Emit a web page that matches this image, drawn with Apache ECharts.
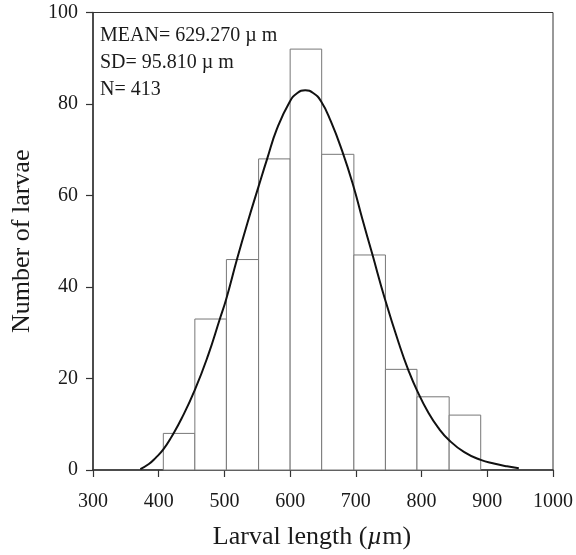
<!DOCTYPE html>
<html>
<head>
<meta charset="utf-8">
<script src="https://cdn.jsdelivr.net/npm/echarts@6/dist/echarts.min.js"></script>
<style>html,body{margin:0;padding:0;background:#fff;}#c{width:576px;height:555px;}</style>
</head>
<body>
<div id="c"></div>
<script>
// Histogram bins (bin edges in µm) and counts
const binLeft  = [407, 455, 503, 552, 600, 648, 697, 745, 793, 842];
const binRight = [455, 503, 552, 600, 648, 697, 745, 793, 842, 890];
const counts   = [8, 33, 46, 68, 92, 69, 47, 22, 16, 12];

// Fitted curve, points
const curveX = [372, 385, 395, 407, 420, 435, 455, 475, 493, 503, 519, 535, 552, 565, 580, 599, 611, 623, 635, 647, 662, 679, 696, 710, 725, 744, 767, 780, 793, 810, 825, 842, 865, 890, 910, 930, 948];
const curveY = [0.2, 1.3, 2.6, 4.5, 7.4, 11.3, 17.5, 25, 33, 37.5, 46, 54, 62, 68, 74.6, 80.4, 82.4, 83, 82.4, 80.6, 76.2, 69.8, 62.2, 54.8, 47.2, 37.5, 27, 21.8, 17.4, 12.6, 9.3, 6.5, 3.9, 2.2, 1.4, 0.8, 0.4];

const xTicks = [300, 400, 500, 600, 700, 800, 900, 1000];
const yTicks = [0, 20, 40, 60, 80, 100];

const statLines = ['MEAN= 629.270 µ m', 'SD= 95.810 µ m', 'N= 413'];

const FONT = "'Liberation Serif', 'DejaVu Serif', serif";
const TXT = '#1a1a1a';

const chart = echarts.init(document.getElementById('c'), null, {renderer: 'canvas'});

const barData = binLeft.map((l, i) => [l, binRight[i], counts[i]]);
const curveData = curveX.map((x, i) => [x, curveY[i]]);

chart.setOption({
  animation: false,
  backgroundColor: '#fff',
  grid: {left: 93, right: 23, top: 12.5, bottom: 84, show: true, borderColor: '#333', borderWidth: 1, backgroundColor: 'transparent'},
  xAxis: {
    type: 'value', min: xTicks[0], max: xTicks[xTicks.length - 1], interval: 100,
    name: 'Larval length ({i|µ}m)',
    nameLocation: 'middle', nameGap: 54,
    nameTextStyle: {fontFamily: FONT, fontSize: 26, color: TXT, padding: [0, 22, 0, 0],
      rich: {i: {fontFamily: FONT, fontSize: 26, fontStyle: 'italic', color: TXT}}},
    axisLine: {show: true, lineStyle: {color: '#333', width: 1.5}},
    axisTick: {show: true, inside: false, length: 7, lineStyle: {color: '#333', width: 1.2}},
    axisLabel: {fontFamily: FONT, fontSize: 20, color: TXT, margin: 22, formatter: function (v) { return String(v); }},
    splitLine: {show: false}
  },
  yAxis: {
    type: 'value', min: yTicks[0], max: yTicks[yTicks.length - 1], interval: 20,
    name: 'Number of larvae',
    nameLocation: 'middle', nameGap: 58,
    nameTextStyle: {fontFamily: FONT, fontSize: 26, color: TXT},
    axisLine: {show: true, lineStyle: {color: '#333', width: 1.5}},
    axisTick: {show: true, inside: false, length: 7, lineStyle: {color: '#333', width: 1.2}},
    axisLabel: {fontFamily: FONT, fontSize: 20, color: TXT, margin: 15},
    splitLine: {show: false}
  },
  graphic: [{
    type: 'text', left: 100, top: 22, z: 10,
    style: {text: statLines.join('\n'), font: "20px 'Liberation Serif', serif", fill: TXT, lineHeight: 27}
  }],
  series: [
    {
      type: 'custom',
      data: barData,
      encode: {x: [0, 1], y: 2},
      renderItem: function (params, api) {
        const p0 = api.coord([api.value(0), api.value(2)]);
        const p1 = api.coord([api.value(1), 0]);
        return {
          type: 'rect',
          shape: {x: p0[0], y: p0[1], width: p1[0] - p0[0], height: p1[1] - p0[1]},
          style: {fill: '#fff', stroke: '#777', lineWidth: 1}
        };
      },
      z: 2
    },
    {
      type: 'line',
      data: curveData,
      smooth: true,
      showSymbol: false,
      lineStyle: {color: '#111', width: 2},
      z: 3
    }
  ]
});
</script>
</body>
</html>
